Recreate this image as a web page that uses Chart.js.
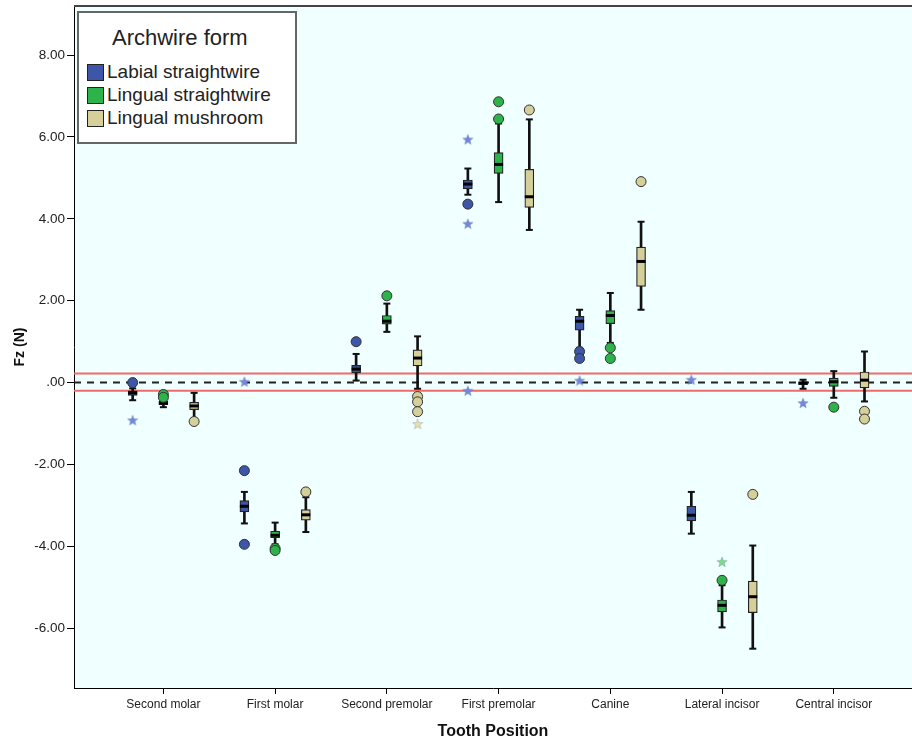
<!DOCTYPE html>
<html>
<head>
<meta charset="utf-8">
<script src="https://cdn.jsdelivr.net/npm/chart.js@4.4.1/dist/chart.umd.min.js"></script>
<style>
  html, body { margin: 0; padding: 0; background: #fff; }
  #wrap { position: relative; width: 912px; height: 744px; }
  #legend {
    position: absolute; left: 77px; top: 11px; width: 216px; height: 129px;
    background: #fff; border: 2px solid #666;
    font-family: "Liberation Sans", Arial, sans-serif; color: #222;
  }
  #legend .title { position: absolute; left: 33px; top: 12px; font-size: 22px; line-height: 26px; white-space: nowrap; }
  #legend .row { position: absolute; left: 8px; height: 23px; white-space: nowrap; }
  #legend .sw { position: absolute; left: 0; top: 3px; width: 15px; height: 15px; border: 1.5px solid #222; }
  #legend .lbl { position: absolute; left: 20px; top: 0; font-size: 19px; line-height: 22px; }
</style>
</head>
<body>
<div id="wrap">
  <canvas id="fz" width="912" height="744"></canvas>
  <div id="legend"></div>
</div>
<script>
// tooth positions, left to right
var categories = ['Second molar', 'First molar', 'Second premolar', 'First premolar', 'Canine', 'Lateral incisor', 'Central incisor'];
var seriesNames = ['Labial straightwire', 'Lingual straightwire', 'Lingual mushroom'];
var yTicks = [-6, -4, -2, 0, 2, 4, 6, 8];
var refZero = 0;
var refBand = [-0.2, 0.22];

// Labial straightwire
var labialLow    = [-0.43, -3.44, 0.05, 4.59, 0.85, -3.69, -0.15];
var labialQ1     = [-0.31, -3.16, 0.24, 4.73, 1.28, -3.38, -0.05];
var labialMedian = [-0.25, -3.02, 0.33, 4.85, 1.50, -3.24, -0.01];
var labialQ3     = [-0.20, -2.88, 0.42, 4.95, 1.62, -3.02, 0.02];
var labialHigh   = [-0.14, -2.67, 0.70, 5.23, 1.78, -2.67, 0.07];
// outliers as [category index, value]
var labialCircles = [[0, 0.0], [1, -2.15], [1, -3.95], [2, 1.0], [3, 4.36], [4, 0.76], [4, 0.59]];
var labialStars   = [[0, -0.92], [1, 0.02], [3, 5.94], [3, 3.88], [3, -0.2], [4, 0.05], [5, 0.07], [6, -0.5]];

// Lingual straightwire
var straightLow    = [-0.60, -3.95, 1.24, 4.41, 0.97, -5.98, -0.37];
var straightQ1     = [-0.54, -3.79, 1.43, 5.11, 1.44, -5.60, -0.09];
var straightMedian = [-0.50, -3.73, 1.50, 5.33, 1.64, -5.44, 0.02];
var straightQ3     = [-0.45, -3.63, 1.64, 5.62, 1.76, -5.31, 0.11];
var straightHigh   = [-0.40, -3.42, 1.93, 6.33, 2.19, -4.95, 0.28];
var straightCircles = [[0, -0.29], [0, -0.36], [1, -4.05], [1, -4.10], [2, 2.12], [3, 6.86], [3, 6.44], [4, 0.85], [4, 0.59], [5, -4.83], [6, -0.6]];
var straightStars   = [[5, -4.38]];

// Lingual mushroom
var mushroomLow    = [-0.88, -3.65, -0.15, 3.73, 1.78, -6.50, -0.46];
var mushroomQ1     = [-0.66, -3.36, 0.41, 4.28, 2.35, -5.62, -0.13];
var mushroomMedian = [-0.57, -3.23, 0.60, 4.54, 2.96, -5.23, 0.06];
var mushroomQ3     = [-0.48, -3.10, 0.80, 5.21, 3.31, -4.85, 0.26];
var mushroomHigh   = [-0.25, -2.80, 1.13, 6.43, 3.93, -3.98, 0.76];
var mushroomCircles = [[0, -0.95], [1, -2.67], [2, -0.34], [2, -0.47], [2, -0.71], [3, 6.66], [4, 4.91], [5, -2.73], [6, -0.70], [6, -0.89]];
var mushroomStars   = [[2, -1.01]];

var boxFill  = ['#3d56a8', '#2eb34b', '#d5cf99'];
var starFill = ['#7088e0', '#78dc8c', '#e6dfb0'];
var offsets  = [-0.275, 0, 0.275];

var series = [
    { low: labialLow, q1: labialQ1, med: labialMedian, q3: labialQ3, high: labialHigh, circles: labialCircles, stars: labialStars },
    { low: straightLow, q1: straightQ1, med: straightMedian, q3: straightQ3, high: straightHigh, circles: straightCircles, stars: straightStars },
    { low: mushroomLow, q1: mushroomQ1, med: mushroomMedian, q3: mushroomQ3, high: mushroomHigh, circles: mushroomCircles, stars: mushroomStars }
];

// SPSS style filled star used for extreme values
function makeStar(fill) {
    var c = document.createElement('canvas');
    c.width = 12; c.height = 12;
    var g = c.getContext('2d');
    g.beginPath();
    for (var k = 0; k < 10; k++) {
        var r = k % 2 === 0 ? 5.5 : 2.3;
        var a = -Math.PI / 2 + k * Math.PI / 5;
        var px = 6 + r * Math.cos(a), py = 6.4 + r * Math.sin(a);
        if (k === 0) g.moveTo(px, py); else g.lineTo(px, py);
    }
    g.closePath();
    g.fillStyle = fill;
    g.fill();
    g.lineWidth = 0.5;
    g.strokeStyle = 'rgba(60,60,90,0.4)';
    g.stroke();
    return c;
}

var datasets = [];
series.forEach(function (s, si) {
    var xs = categories.map(function (c, i) { return i + 1 + offsets[si]; });
    datasets.push({
        type: 'bar', order: 3, grouped: false, barThickness: 2,
        backgroundColor: '#111', borderWidth: 0,
        data: xs.map(function (x, i) { return { x: x, y: [s.low[i], s.high[i]] }; })
    });
    datasets.push({
        type: 'bar', order: 2, grouped: false, barThickness: 9,
        backgroundColor: boxFill[si], borderColor: '#222', borderWidth: 1.2, borderSkipped: false,
        data: xs.map(function (x, i) { return { x: x, y: [s.q1[i], s.q3[i]] }; })
    });
    datasets.push({
        type: 'scatter', order: 1, pointStyle: 'line', pointRadius: 4.5, borderWidth: 3, borderColor: '#000',
        data: xs.map(function (x, i) { return { x: x, y: s.med[i] }; })
    });
    datasets.push({
        type: 'scatter', order: 1, pointStyle: 'line', pointRadius: 3.5, borderWidth: 2, borderColor: '#111',
        data: xs.map(function (x, i) { return { x: x, y: s.low[i] }; })
            .concat(xs.map(function (x, i) { return { x: x, y: s.high[i] }; }))
    });
    datasets.push({
        type: 'scatter', order: 0, pointStyle: 'circle', pointRadius: 5, borderWidth: 1,
        backgroundColor: boxFill[si], borderColor: '#333',
        data: s.circles.map(function (p) { return { x: p[0] + 1 + offsets[si], y: p[1] }; })
    });
    datasets.push({
        type: 'scatter', order: 0, pointStyle: makeStar(starFill[si]), pointRadius: 6,
        data: s.stars.map(function (p) { return { x: p[0] + 1 + offsets[si], y: p[1] }; })
    });
});

var xMin = 0.2, xMax = 7.7;
datasets.push({
    type: 'line', order: 4, borderColor: '#222', borderWidth: 2, borderDash: [7, 6], pointRadius: 0,
    data: [{ x: xMin, y: refZero }, { x: xMax, y: refZero }]
});
refBand.forEach(function (v) {
    datasets.push({
        type: 'line', order: 4, borderColor: '#f06a6a', borderWidth: 2, pointRadius: 0,
        data: [{ x: xMin, y: v }, { x: xMax, y: v }]
    });
});

const plotFrame = {
    id: 'plotFrame',
    beforeDraw(chart) {
        var a = chart.chartArea, ctx = chart.ctx;
        ctx.save();
        ctx.fillStyle = '#f0ffff';
        ctx.fillRect(a.left, a.top, a.right - a.left, a.bottom - a.top);
        ctx.restore();
    },
    afterDraw(chart) {
        var a = chart.chartArea, ctx = chart.ctx;
        ctx.save();
        ctx.strokeStyle = '#444';
        ctx.lineWidth = 2;
        ctx.beginPath();
        ctx.moveTo(a.left, a.top);
        ctx.lineTo(a.right, a.top);
        ctx.stroke();
        ctx.restore();
    }
};

new Chart(document.getElementById('fz'), {
    type: 'bar',
    data: { datasets: datasets },
    plugins: [plotFrame],
    options: {
        responsive: false,
        animation: false,
        devicePixelRatio: 1,
        layout: { autoPadding: false, padding: { top: 6, right: 0, left: 0, bottom: 0 } },
        plugins: { legend: { display: false }, tooltip: { enabled: false }, title: { display: false } },
        scales: {
            x: {
                type: 'linear', min: xMin, max: xMax, offset: false,
                afterBuildTicks: function (scale) {
                    scale.ticks = categories.map(function (c, i) { return { value: i + 1 }; });
                },
                afterFit: function (scale) {
                    scale.height = 56;
                    scale.paddingLeft = 0;
                    scale.paddingRight = 0;
                },
                ticks: {
                    autoSkip: false, maxRotation: 0, padding: 3, color: '#222',
                    font: { family: '"Liberation Sans", Arial, sans-serif', size: 12 },
                    callback: function (v) { return categories[Math.round(v) - 1]; }
                },
                grid: { drawOnChartArea: false, drawTicks: true, tickLength: 6, color: '#000', offset: false },
                border: { display: true, color: '#000', width: 1 },
                title: {
                    display: true, text: 'Tooth Position', color: '#111',
                    font: { family: '"Liberation Sans", Arial, sans-serif', size: 16, weight: 'bold' },
                    padding: { top: 0, bottom: 3 }
                }
            },
            y: {
                min: -7.46, max: 9.2,
                afterBuildTicks: function (scale) {
                    scale.ticks = yTicks.map(function (v) { return { value: v }; });
                },
                afterFit: function (scale) {
                    scale.width = 74;
                    scale.paddingTop = 0;
                    scale.paddingBottom = 0;
                },
                ticks: {
                    padding: 2, color: '#222',
                    font: { family: '"Liberation Sans", Arial, sans-serif', size: 13.5 },
                    callback: function (v) { return v === 0 ? '.00' : v.toFixed(2); }
                },
                grid: { drawOnChartArea: false, drawTicks: true, tickLength: 7, color: '#000' },
                border: { display: true, color: '#000', width: 1 },
                title: {
                    display: true, text: 'Fz (N)', color: '#111',
                    font: { family: '"Liberation Sans", Arial, sans-serif', size: 14, weight: 'bold' },
                    padding: { top: 12, bottom: 0 }
                }
            }
        }
    }
});

// legend box drawn inside the plot, as in the SPSS output
var legend = document.getElementById('legend');
var html = '<div class="title">Archwire form</div>';
seriesNames.forEach(function (name, i) {
    html += '<div class="row" style="top:' + (48 + i * 23) + 'px"><div class="sw" style="background:' + boxFill[i] + '"></div><div class="lbl">' + name + '</div></div>';
});
legend.innerHTML = html;
</script>
</body>
</html>
